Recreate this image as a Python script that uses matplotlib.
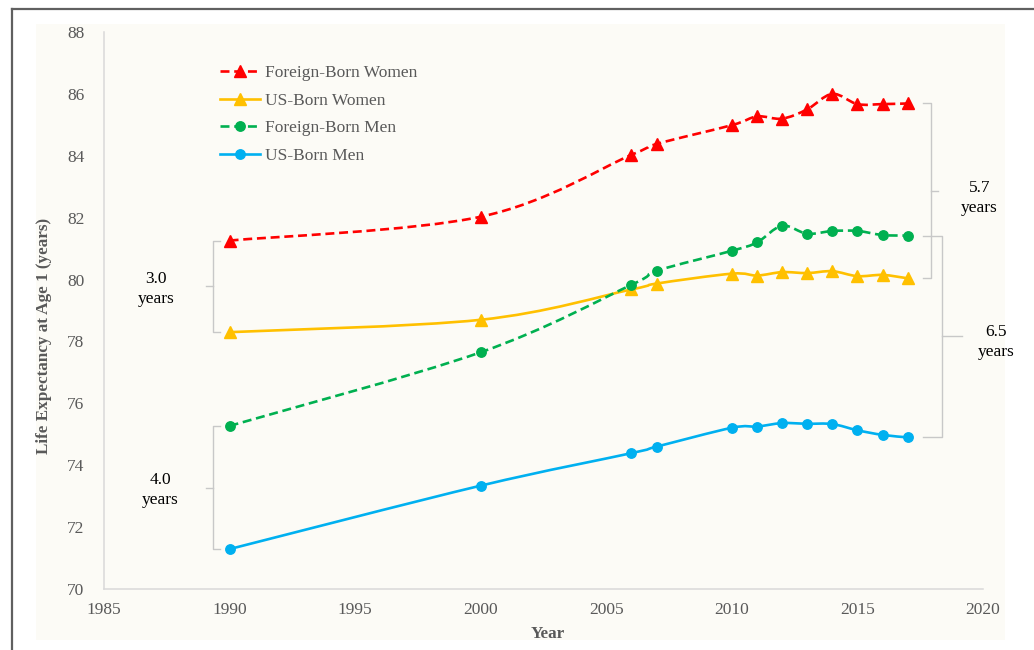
import numpy as np
import matplotlib
matplotlib.use("Agg")
import matplotlib.pyplot as plt
from matplotlib.path import Path
from matplotlib.patches import PathPatch, Rectangle
from matplotlib.lines import Line2D

# data
years = [1990, 2000, 2006, 2007, 2010, 2011, 2012, 2013, 2014, 2015, 2016, 2017]
fb_women = [81.26, 82.03, 84.03, 84.38, 84.99, 85.27, 85.20, 85.50, 86.00, 85.67, 85.67, 85.69]
us_women = [78.30, 78.70, 79.68, 79.87, 80.19, 80.13, 80.24, 80.21, 80.27, 80.11, 80.15, 80.04]
fb_men = [75.27, 77.65, 79.83, 80.28, 80.93, 81.20, 81.74, 81.48, 81.57, 81.57, 81.44, 81.42]
us_men = [71.29, 73.34, 74.39, 74.60, 75.21, 75.25, 75.36, 75.34, 75.33, 75.13, 74.98, 74.90]

SERIF = "Liberation Serif"
GREY_TXT = "#595959"


def smooth_path(x, y):
    """Excel-like smoothed line: cubic bezier through every data point."""
    pts = np.column_stack([x, y]).astype(float)
    verts = [pts[0]]
    codes = [Path.MOVETO]
    n = len(pts)
    for i in range(n - 1):
        p0 = pts[max(i - 1, 0)]
        p1 = pts[i]
        p2 = pts[i + 1]
        p3 = pts[min(i + 2, n - 1)]
        c1 = p1 + (p2 - p0) / 6.0
        c2 = p2 - (p3 - p1) / 6.0
        verts += [c1, c2, p2]
        codes += [Path.CURVE4] * 3
    return Path(verts, codes)


fig = plt.figure(figsize=(10.34, 6.5), dpi=100)

# cream panel + dark frame of the original figure
fig.patches.append(Rectangle((36 / 1034, 1 - 640 / 650), (1005 - 36) / 1034, (640 - 24) / 650,
                             transform=fig.transFigure, facecolor="#FCFBF6", edgecolor="none",
                             zorder=-10))
fig.add_artist(Line2D([12 / 1034, 12 / 1034], [0, 1 - 9 / 650], transform=fig.transFigure,
                      color="#606060", lw=1.6))
fig.add_artist(Line2D([12 / 1034, 1], [1 - 9 / 650, 1 - 9 / 650], transform=fig.transFigure,
                      color="#606060", lw=1.6))

ax = fig.add_axes([104 / 1034, 1 - 589 / 650, (983 - 104) / 1034, (589 - 32) / 650])
ax.set_facecolor("none")
ax.set_zorder(1)

series = [
    ("Foreign-Born Women", fb_women, "#FF0000", "^", (3.4, 1.8)),
    ("US-Born Women", us_women, "#FFC000", "^", None),
    ("Foreign-Born Men", fb_men, "#00B050", "o", (3.4, 1.8)),
    ("US-Born Men", us_men, "#00B0F0", "o", None),
]

handles = []
for label, vals, col, mk, dash in series:
    patch = PathPatch(smooth_path(years, vals), facecolor="none", edgecolor=col, lw=1.9,
                      linestyle=(0, dash) if dash else "-", capstyle="butt")
    ax.add_patch(patch)
    ms = 8 if mk == "^" else 6.8
    ax.plot(years, vals, linestyle="none", marker=mk, ms=ms, color=col, mec=col)
    handles.append(Line2D([], [], color=col, lw=1.9, marker=mk, ms=ms,
                          linestyle=(0, dash) if dash else "-"))

ax.set_xlim(1985, 2020)
ax.set_ylim(70, 88)
ax.set_xticks(range(1985, 2021, 5))
ax.set_yticks(range(70, 89, 2))
ax.tick_params(length=0, labelsize=12.5, labelcolor=GREY_TXT)
ax.tick_params(axis="y", pad=14)
ax.tick_params(axis="x", pad=9)
for t in ax.get_xticklabels() + ax.get_yticklabels():
    t.set_fontfamily(SERIF)
for s in ["top", "right"]:
    ax.spines[s].set_visible(False)
for s in ["left", "bottom"]:
    ax.spines[s].set_color("#D9D9D9")
    ax.spines[s].set_linewidth(1.1)

fig.text(44 / 1034, 1 - 336 / 650, "Life Expectancy at Age 1 (years)", rotation=90,
         ha="center", va="center", fontsize=12.3, fontweight="bold", color=GREY_TXT, family=SERIF)
fig.text(548 / 1034, 1 - 634 / 650, "Year", ha="center", va="center",
         fontsize=12.3, fontweight="bold", color=GREY_TXT, family=SERIF)

leg = ax.legend(handles, [s[0] for s in series], loc="upper left",
                bbox_to_anchor=((220 - 104) / 879, (589 - 65) / 557), frameon=False,
                borderaxespad=0, borderpad=0, handlelength=2.3, handletextpad=0.3,
                labelspacing=0.66, prop={"family": SERIF, "size": 12.5})
for t in leg.get_texts():
    t.set_color(GREY_TXT)


# gap brackets
def bracket(x_line, x_end, x_tip, y_top, y_bot):
    y_mid = (y_top + y_bot) / 2
    ax.plot([x_end, x_line, x_line, x_end], [y_top, y_top, y_bot, y_bot],
            color="#C8C8C8", lw=1.0, clip_on=False)
    ax.plot([x_line, x_tip], [y_mid, y_mid], color="#C8C8C8", lw=1.0, clip_on=False)


bracket(1989.35, 1989.62, 1989.06, fb_women[0], us_women[0])
bracket(1989.35, 1989.62, 1989.06, fb_men[0], us_men[0])
bracket(2017.93, 2017.62, 2018.21, fb_women[-1], us_women[-1])
bracket(2018.38, 2017.62, 2019.15, fb_men[-1], us_men[-1])

note = dict(ha="center", va="center", fontsize=12.5, family=SERIF, color="black",
            linespacing=1.3, clip_on=False)
ax.text(1987.07, 79.7, "3.0\nyears", **note)
ax.text(1987.23, 73.2, "4.0\nyears", **note)
ax.text(2019.85, 82.64, "5.7\nyears", **note)
ax.text(2020.53, 77.98, "6.5\nyears", **note)

fig.savefig("out.png", dpi=100)
